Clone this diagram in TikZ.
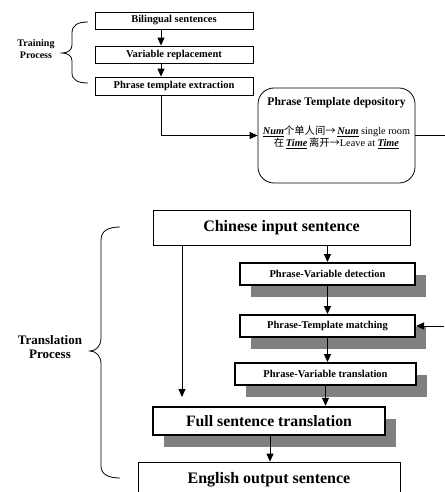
\documentclass[tikz,border=0pt]{standalone}
\usepackage{fontspec}
\setmainfont{Liberation Serif}
\newfontfamily\cjk{Noto Sans CJK SC}
\usetikzlibrary{arrows.meta,calc,shapes.misc,shadows}
\newcommand{\vb}[1]{\underline{\textbf{\textit{#1}}}}
\begin{document}
\begin{tikzpicture}[x=1pt,y=-1pt,
  arr/.style={line width=0.9pt,-{Triangle[length=8pt,width=7pt]}},
  ln/.style={line width=0.9pt},
  tbox/.style={draw,line width=0.8pt,font=\bfseries\fontsize{10.5}{12}\selectfont,minimum width=158pt,minimum height=17pt,inner sep=0pt},
  bigbox/.style={draw,line width=0.8pt,font=\bfseries\fontsize{16}{18}\selectfont,inner sep=0pt},
  stepbox/.style={draw,line width=2pt,fill=white,font=\bfseries\fontsize{10.5}{12}\selectfont,inner sep=0pt,minimum height=22pt,
     drop shadow={shadow xshift=11pt,shadow yshift=-12pt,fill=black!50,opacity=1}},
  lbl/.style={font=\bfseries\fontsize{10}{12}\selectfont,align=center,inner sep=0pt},
  brace/.style={line width=0.8pt}
]
\useasboundingbox (0,0) rectangle (444,492);

% training process
\node[tbox] (b1) at (174,20.5) {Bilingual sentences};
\node[tbox] (b2) at (174,54.5) {Variable replacement};
\node[tbox,minimum height=18pt] (b3) at (174,86) {Phrase template extraction};
\coordinate (ax) at (161,0);
\draw[arr] (b1.south -| ax) -- (b2.north -| ax);
\draw[arr] (b2.south -| ax) -- (b3.north -| ax);

\draw[brace] (88,22) .. controls (78,22) and (72,25) .. (72,33) -- (72,45)
  .. controls (72,50) and (68,53) .. (62,53) .. controls (68,53) and (72,56) .. (72,61)
  -- (72,73) .. controls (72,80) and (78,83) .. (88,83);
\node[lbl] (tp) at (36,49.5) {Training\\Process};

% depository
\node[draw,line width=0.8pt,rounded corners=16pt,minimum width=157pt,minimum height=95pt] (dep) at (336.5,135.5) {};
\node[font=\bfseries\fontsize{11.6}{14}\selectfont,inner sep=0pt] (dept) at (336.5,103) {Phrase Template depository};
\node[font=\fontsize{10.3}{12}\selectfont,align=center,inner sep=0pt] (depc) at (336.5,137)
  {\vb{Num}{\cjk 个单人间→}\,\vb{Num} single room\\{\cjk 在}\,\vb{Time}\,{\cjk 离开→}Leave at \vb{Time}};
\draw[arr] (b3.south -| ax) |- (dep.west);
\coordinate (rx) at (446,0);
\draw[ln] (dep.east) -- (dep.east -| rx);

% translation process
\node[bigbox,minimum width=257pt,minimum height=35pt] (cin) at (281.5,227.5) {Chinese input sentence};
\node[stepbox,minimum width=175pt] (pvd) at (327.5,274) {Phrase-Variable detection};
\node[stepbox,minimum width=175pt] (ptm) at (327.5,326) {Phrase-Template matching};
\node[stepbox,minimum width=181pt] (pvt) at (325.5,374) {Phrase-Variable translation};
\node[stepbox,line width=2.5pt,font=\bfseries\fontsize{15.8}{18}\selectfont,minimum width=232pt,minimum height=28pt] (fst) at (269,421) {Full sentence translation};
\node[bigbox,minimum width=262pt,minimum height=38pt] (eos) at (269,481) {};
\node[font=\bfseries\fontsize{16}{18}\selectfont,inner sep=0pt] (eost) at (269,480) {English output sentence};

\draw[arr] (cin.south -| pvd.north) -- (pvd.north);
\draw[arr] (pvd.south) -- (ptm.north);
\draw[arr] (ptm.south) -- (pvt.north -| ptm.south);
\draw[arr] (pvt.south) -- (fst.north -| pvt.south);
\coordinate (fx) at (270,0);
\draw[arr] (fst.south -| fx) -- (eos.north -| fx);
\coordinate (vx) at (182,0);
\coordinate (vend) at (182,397);
\draw[arr] (cin.south -| vx) -- (vend);
\coordinate (rin) at (444,326);
\draw[arr] (rin) -- (ptm.east);

\draw[brace] (120,227) .. controls (108,227) and (101,231) .. (101,240) -- (101,338)
  .. controls (101,346) and (96,351) .. (90,351) .. controls (96,351) and (101,356) .. (101,364)
  -- (101,466) .. controls (101,474) and (108,478) .. (120,478);
\node[lbl,font=\bfseries\fontsize{13}{14}\selectfont] (trp) at (50,347) {Translation\\Process};
\end{tikzpicture}
\end{document}
